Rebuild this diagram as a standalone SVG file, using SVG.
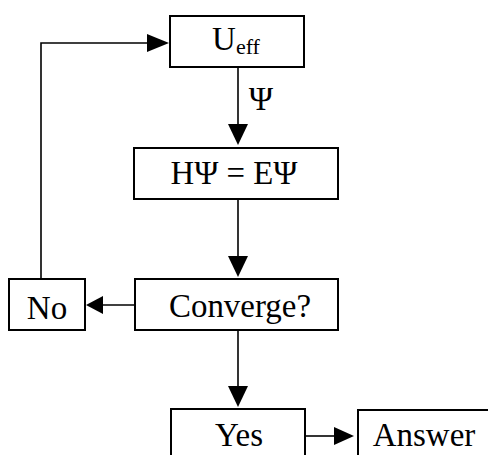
<svg xmlns="http://www.w3.org/2000/svg" width="488" height="455" viewBox="0 0 488 455">
<style>
.box{fill:#fff;stroke:#000;stroke-width:2}
.t{font-family:"Liberation Serif","Times New Roman",serif;font-size:33px;fill:#000;text-anchor:middle}
.ln{fill:none;stroke:#000;stroke-width:1.6}
.hd{fill:#000;stroke:none}
</style>
<rect width="488" height="455" fill="#fff"/>
<g id="connectors">
<line class="ln" x1="238" y1="67" x2="238" y2="126"/>
<polygon class="hd" points="228,124 248,124 238,145"/>
<text class="t" x="261" y="110">Ψ</text>
<line class="ln" x1="238" y1="199" x2="238" y2="258"/>
<polygon class="hd" points="228,256 248,256 238,277"/>
<line class="ln" x1="135" y1="305" x2="101" y2="305"/>
<polygon class="hd" points="103,296 103,314 86,305"/>
<polyline class="ln" points="41,279 41,43 149,43"/>
<polygon class="hd" points="147,34 147,52 169,43"/>
<line class="ln" x1="238" y1="330" x2="238" y2="388"/>
<polygon class="hd" points="228,386 248,386 238,407"/>
<line class="ln" x1="305" y1="436" x2="336" y2="436"/>
<polygon class="hd" points="334,427 334,445 354,436"/>
</g>
<g id="ueff">
<rect class="box" x="170" y="16" width="134" height="51"/>
<text class="t" x="236" y="50">U<tspan font-size="22" dy="4">eff</tspan></text>
</g>
<g id="schrodinger">
<rect class="box" x="134" y="148" width="204" height="51"/>
<text class="t" x="234" y="184" font-size="29" textLength="127" lengthAdjust="spacingAndGlyphs">HΨ = EΨ</text>
</g>
<g id="converge">
<rect class="box" x="135" y="279" width="203" height="51"/>
<text class="t" x="240" y="317" textLength="142" lengthAdjust="spacingAndGlyphs">Converge?</text>
</g>
<g id="no">
<rect class="box" x="9" y="279" width="76" height="51"/>
<text class="t" x="47" y="319">No</text>
</g>
<g id="yes">
<rect class="box" x="171" y="409" width="134" height="60"/>
<text class="t" x="239" y="446">Yes</text>
</g>
<g id="answer">
<rect class="box" x="358" y="410" width="140" height="60"/>
<text class="t" x="424" y="446">Answer</text>
</g>
</svg>
